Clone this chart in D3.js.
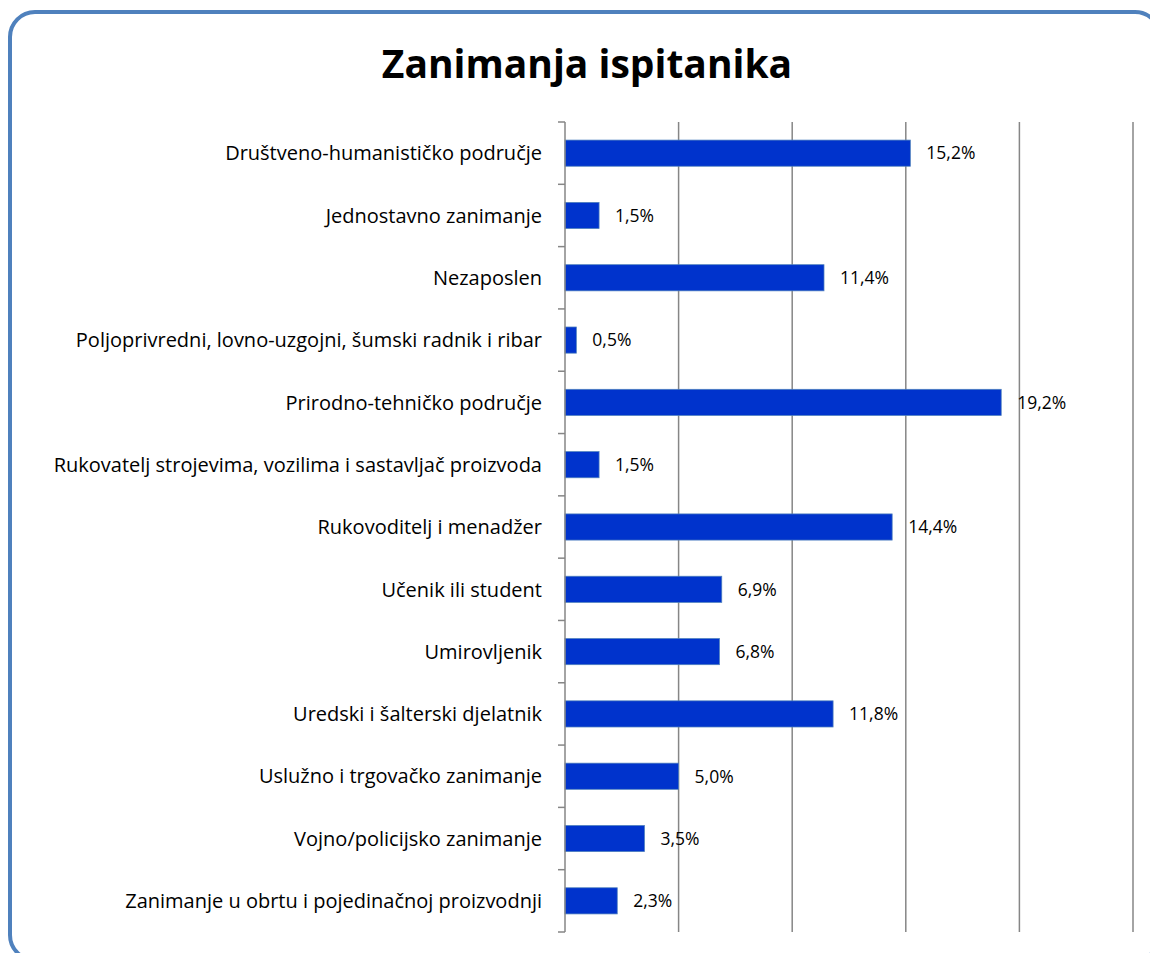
<!DOCTYPE html>
<html>
<head>
<meta charset="UTF-8">
<title>Zanimanja ispitanika</title>
<script src="https://d3js.org/d3.v7.min.js"></script>
<style>
  html, body { margin:0; padding:0; background:#fff; }
  svg { display:block; }
</style>
</head>
<body>
<div id="chart"></div>
<script>
const titleText = 'Zanimanja ispitanika';
const categories = [
  'Društveno-humanističko područje',
  'Jednostavno zanimanje',
  'Nezaposlen',
  'Poljoprivredni, lovno-uzgojni, šumski radnik i ribar',
  'Prirodno-tehničko područje',
  'Rukovatelj strojevima, vozilima i sastavljač proizvoda',
  'Rukovoditelj i menadžer',
  'Učenik ili student',
  'Umirovljenik',
  'Uredski i šalterski djelatnik',
  'Uslužno i trgovačko zanimanje',
  'Vojno/policijsko zanimanje',
  'Zanimanje u obrtu i pojedinačnoj proizvodnji'
];
const values = [15.2, 1.5, 11.4, 0.5, 19.2, 1.5, 14.4, 6.9, 6.8, 11.8, 5.0, 3.5, 2.3];
const gridTicks = [5, 10, 15, 20, 25];

const W = 1150, H = 953;
const plot = {left:565, right:1133, top:122, bottom:932};
const font = '"Open Sans", sans-serif';

const svg = d3.select('#chart').append('svg')
  .attr('width', W).attr('height', H);

// outer rounded frame (runs past the right and bottom edges)
svg.append('rect')
  .attr('x', 10).attr('y', 12)
  .attr('width', 1150).attr('height', 948)
  .attr('rx', 25).attr('ry', 25)
  .attr('fill', '#fff')
  .attr('stroke', '#4f81bd')
  .attr('stroke-width', 4);

svg.append('text')
  .attr('x', 587).attr('y', 78)
  .attr('text-anchor', 'middle')
  .attr('font-family', font)
  .attr('font-weight', 'bold')
  .attr('font-size', 39)
  .attr('fill', '#000')
  .text(titleText);

const x = d3.scaleLinear().domain([0, 25]).range([plot.left, plot.right]);
const y = d3.scaleBand().domain(categories).range([plot.top, plot.bottom])
  .paddingInner(0.58).paddingOuter(0.29);

// gridlines
svg.append('g').selectAll('line')
  .data(gridTicks)
  .enter().append('line')
  .attr('x1', d => x(d)).attr('x2', d => x(d))
  .attr('y1', plot.top).attr('y2', plot.bottom)
  .attr('stroke', '#868686').attr('stroke-width', 1.5);

// bars
svg.append('g').selectAll('rect')
  .data(values)
  .enter().append('rect')
  .attr('x', x(0))
  .attr('y', (d,i) => y(categories[i]))
  .attr('width', d => x(d) - x(0))
  .attr('height', y.bandwidth())
  .attr('fill', '#0033cc')
  .attr('stroke', '#4f81bd')
  .attr('stroke-width', 0.75);

// value labels
svg.append('g').selectAll('text')
  .data(values)
  .enter().append('text')
  .attr('x', d => x(d) + 16)
  .attr('y', (d,i) => y(categories[i]) + y.bandwidth()/2)
  .attr('dy', '0.36em')
  .attr('font-family', font)
  .attr('font-size', 17.5)
  .attr('fill', '#000')
  .text(d => d.toFixed(1).replace('.', ',') + '%');

// category axis
const bounds = d3.range(categories.length + 1).map(i => plot.top + i * (plot.bottom - plot.top) / categories.length);
const axisG = svg.append('g');
axisG.append('line')
  .attr('x1', plot.left).attr('x2', plot.left)
  .attr('y1', plot.top).attr('y2', plot.bottom)
  .attr('stroke', '#868686').attr('stroke-width', 1.5);
axisG.selectAll('line.tick')
  .data(bounds)
  .enter().append('line')
  .attr('class', 'tick')
  .attr('x1', plot.left - 7).attr('x2', plot.left)
  .attr('y1', d => d).attr('y2', d => d)
  .attr('stroke', '#868686').attr('stroke-width', 1.5);
axisG.selectAll('text')
  .data(categories)
  .enter().append('text')
  .attr('x', plot.left - 23)
  .attr('y', d => y(d) + y.bandwidth()/2)
  .attr('dy', '0.36em')
  .attr('text-anchor', 'end')
  .attr('font-family', font)
  .attr('font-size', 20)
  .attr('fill', '#000')
  .text(d => d);
</script>
</body>
</html>
